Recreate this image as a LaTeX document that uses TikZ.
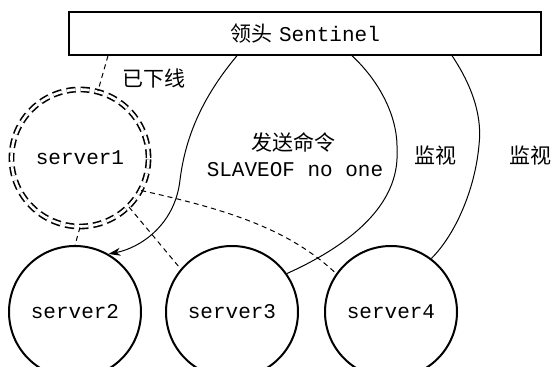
\documentclass[tikz,border=0pt]{standalone}
\usepackage{fontspec}
\setmonofont{Liberation Mono}
\newfontfamily\cjk{Noto Sans CJK SC}
\usetikzlibrary{arrows.meta}

\begin{document}
\begin{tikzpicture}[x=0.5pt,y=-0.5pt,
  server/.style={circle,draw,line width=1pt,minimum size=66pt,inner sep=0pt,font=\fontsize{10.5}{12}\selectfont\ttfamily},
  offline/.style={circle,draw,line width=0.8pt,double,double distance=1.3pt,dash pattern=on 4.5pt off 2.5pt,minimum size=68.5pt,inner sep=0pt,font=\fontsize{10.5}{12}\selectfont\ttfamily},
  link/.style={line width=0.5pt},
  lost/.style={line width=0.5pt,dash pattern=on 2.5pt off 2pt},
  lbl/.style={font=\fontsize{10.5}{12}\selectfont}]
\useasboundingbox (0,0) rectangle (551,367);
% leader sentinel
\node[draw,line width=0.7pt,minimum width=236pt,minimum height=21.5pt,inner sep=0pt,lbl] (sentinel) at (305,33.5) {{\cjk 领头} \texttt{Sentinel}};
% servers
\node[offline] (s1) at (80,158) {server1};
\node[server] (s2) at (75,312) {server2};
\node[server] (s3) at (232,312) {server3};
\node[server] (s4) at (391,312) {server4};
% labels
\node[lbl] (down) at (154,78) {\cjk 已下线};
\node[lbl] (cmd) at (293,142) {\cjk 发送命令};
\node[lbl] (slaveof) at (295,170) {\ttfamily SLAVEOF no one};
\node[lbl] (watch3) at (435,156) {\cjk 监视};
\node[lbl] (watch4) at (530,156) {\cjk 监视};
% old links
\draw[lost] ([xshift=-98.5pt]sentinel.south) -- (s1.75);
\draw[lost] (s1.south) -- (s2.north);
\draw[lost] (s1.-45) -- (s3.140);
\draw[lost] (s1.-28) .. controls (230,210) and (290,230) .. (s4.145);
% sentinel links
\draw[link,-{Stealth[length=6pt,width=4pt]}] ([xshift=-34pt]sentinel.south) .. controls (200,100) and (185,140) .. (180,180) .. controls (175,225) and (140,248) .. (s2.60);
\draw[link] ([xshift=23.5pt]sentinel.south) .. controls (378,80) and (398,115) .. (397,150) .. controls (400,205) and (350,245) .. (s3.35);
\draw[link] ([xshift=73.5pt]sentinel.south) .. controls (475,90) and (482,120) .. (479,145) .. controls (475,190) and (455,235) .. (s4.53);
\end{tikzpicture}
\end{document}
